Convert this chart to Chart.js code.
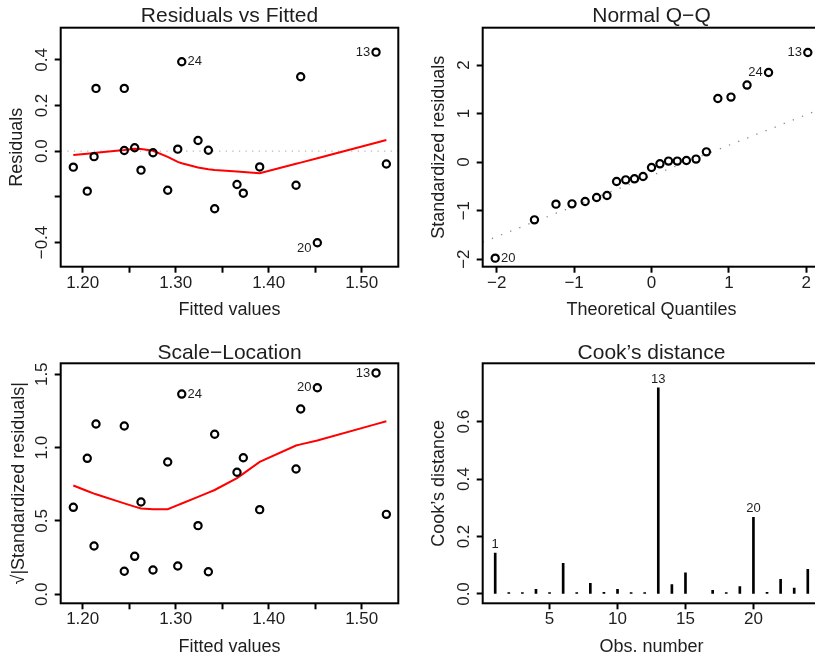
<!DOCTYPE html>
<html>
<head>
<meta charset="utf-8">
<script src="https://cdn.jsdelivr.net/npm/chart.js@4.4.1/dist/chart.umd.min.js"></script>
<style>
html,body{margin:0;padding:0;background:#fff;overflow:hidden;width:815px;height:657px;}
.p{position:absolute;}
canvas{display:block;}
</style>
</head>
<body>
<div class="p" style="left:0px;top:0px"><canvas id="c1" width="407" height="330"></canvas></div>
<div class="p" style="left:407px;top:0px"><canvas id="c2" width="420" height="330"></canvas></div>
<div class="p" style="left:0px;top:330px"><canvas id="c3" width="407" height="327"></canvas></div>
<div class="p" style="left:407px;top:330px"><canvas id="c4" width="420" height="327"></canvas></div>
<script>
// ---------------- data ----------------
const fittedValues = [1.1899,1.2049,1.2122,1.2143,1.2447,1.2447,1.2559,1.2627,1.2756,1.2914,1.3022,1.3065,1.3240,1.3351,1.3419,1.3659,1.3727,1.3903,1.4294,1.4344,1.4523,1.5154,1.5265];
const residuals    = [-0.070,-0.175,-0.024,0.275,0.275,0.003,0.015,-0.083,-0.007,-0.171,0.009,0.392,0.047,0.004,-0.252,-0.146,-0.184,-0.069,-0.149,0.326,-0.401,0.434,-0.056];
const residSmooth  = [-0.017,-0.011,-0.008,-0.007,0.005,0.005,0.011,0.010,0.002,-0.025,-0.047,-0.053,-0.071,-0.079,-0.082,-0.089,-0.091,-0.097,-0.055,-0.050,-0.031,0.037,0.049];
const sqrtStdResid = [0.593,0.927,0.329,1.161,1.147,0.157,0.259,0.629,0.166,0.902,0.193,1.365,0.468,0.154,1.091,0.832,0.931,0.577,0.854,1.263,1.408,1.509,0.545];
const sqrtSmooth   = [0.742,0.704,0.686,0.682,0.620,0.620,0.598,0.585,0.579,0.580,0.608,0.619,0.664,0.693,0.711,0.792,0.823,0.903,1.014,1.022,1.048,1.160,1.180];
const obsLabel     = ['','','','','','','','','','','','24','','','','','','','','','20','13',''];

const theoQuantiles = [-2.019,-1.512,-1.234,-1.027,-0.857,-0.709,-0.575,-0.451,-0.333,-0.220,-0.109,0,0.109,0.220,0.333,0.451,0.575,0.709,0.857,1.027,1.234,1.512,2.019];
const stdResidSorted = [-1.979,-1.190,-0.866,-0.860,-0.812,-0.730,-0.688,-0.400,-0.365,-0.344,-0.297,-0.111,-0.035,0.021,0.021,0.033,0.062,0.212,1.311,1.340,1.588,1.847,2.260];
const qqLabel = ['20','','','','','','','','','','','','','','','','','','','','','24','13'];
const qqLineX = [-2.18, 2.18];
const qqLineY = [-1.649, 1.089];

const cookObs = [1,2,3,4,5,6,7,8,9,10,11,12,13,14,15,16,17,18,19,20,21,22,23,24];
const cookD   = [0.142,0.005,0.005,0.016,0.005,0.107,0.005,0.037,0.006,0.016,0.005,0.005,0.718,0.033,0.074,null,0.013,0.005,0.026,0.267,0.006,0.051,0.021,0.086];
const cookLabel = ['1','','','','','','','','','','','','13','','','','','','','20','','','',''];

// tick values and labels
const fitTicks = [1.20,1.25,1.30,1.35,1.40,1.45,1.50];
const fitTickLabels = ['1.20','','1.30','','1.40','','1.50'];
const resTicks = [-0.4,-0.2,0.0,0.2,0.4];
const resTickLabels = ['\u22120.4','','0.0','0.2','0.4'];
const qqTicks = [-2,-1,0,1,2];
const qqTickLabels = ['\u22122','\u22121','0','1','2'];
const slTicks = [0,0.5,1.0,1.5];
const slTickLabels = ['0.0','0.5','1.0','1.5'];
const cookXTicks = [5,10,15,20];
const cookXTickLabels = ['5','10','15','20'];
const cookYTicks = [0,0.2,0.4,0.6];
const cookYTickLabels = ['0.0','0.2','0.4','0.6'];

// ---------------- drawing ----------------
const FONT = "'Liberation Sans', Arial, Helvetica, sans-serif";
const TXT = '#1e1e1e';

const rDecor = {
  id: 'rdecor',
  afterDraw(chart, args, o) {
    const ctx = chart.ctx, a = chart.chartArea;
    const xs = chart.scales.x, ys = chart.scales.y;
    ctx.save();
    ctx.strokeStyle = '#000'; ctx.lineWidth = 2;
    ctx.strokeRect(a.left, a.top, a.right - a.left, a.bottom - a.top);
    ctx.fillStyle = TXT;
    const cx = (a.left + a.right) / 2, cy = (a.top + a.bottom) / 2;
    ctx.textAlign = 'center'; ctx.textBaseline = 'alphabetic';
    ctx.font = '21px ' + FONT;
    ctx.fillText(o.title, cx, a.top - o.titleGap);
    ctx.font = '17px ' + FONT;
    o.xTicks.forEach((v, i) => { if (o.xTickLabels[i]) ctx.fillText(o.xTickLabels[i], xs.getPixelForValue(v), a.bottom + 20.8); });
    ctx.font = '18px ' + FONT;
    ctx.fillText(o.xTitle, cx, a.bottom + 48.6);
    // rotated y tick labels
    ctx.font = '17px ' + FONT;
    o.yTicks.forEach((v, i) => {
      if (!o.yTickLabels[i]) return;
      ctx.save(); ctx.translate(a.left - 14.2, ys.getPixelForValue(v)); ctx.rotate(-Math.PI / 2);
      ctx.fillText(o.yTickLabels[i], 0, 0); ctx.restore();
    });
    ctx.font = '18px ' + FONT;
    ctx.save(); ctx.translate(a.left - o.yTitleGap, cy); ctx.rotate(-Math.PI / 2);
    ctx.fillText(o.yTitle, 0, 0); ctx.restore();
    // id labels
    ctx.font = '13px ' + FONT;
    if (o.ids) {
      const mid = (xs.min + xs.max) / 2;
      o.ids.labels.forEach((lab, i) => {
        if (!lab) return;
        const xv = o.ids.x[i], yv = o.ids.y[i];
        const px = xs.getPixelForValue(xv);
        let py = ys.getPixelForValue(yv);
        if (o.ids.mode === 'above') {
          ctx.textAlign = 'center'; ctx.textBaseline = 'alphabetic';
          ctx.fillText(lab, px, py - 5);
          return;
        }
        if (o.ids.shiftNeg && yv < 0) py += 6;
        ctx.textBaseline = 'middle';
        if (xv < mid) { ctx.textAlign = 'left'; ctx.fillText(lab, px + 5.8, py); }
        else { ctx.textAlign = 'right'; ctx.fillText(lab, px - 5.8, py); }
      });
    }
    ctx.restore();
  }
};

function axis(min, max, ticks, size, isY) {
  return {
    type: 'linear', min: min, max: max, offset: false,
    afterBuildTicks: s => { s.ticks = ticks.map(v => ({ value: v })); },
    afterFit: s => { if (isY) s.width = size; else s.height = size; },
    ticks: { display: false },
    grid: { drawOnChartArea: false, drawTicks: true, tickLength: 6, tickWidth: 2, tickColor: '#000', offset: false },
    border: { display: false }
  };
}

function panel(id, canvasTop, canvasLeft, cw, ch, box, xr, yr, xt, yt, type, datasets, deco) {
  return new Chart(document.getElementById(id), {
    type: type,
    data: { datasets: datasets },
    options: {
      responsive: false, animation: false, events: [],
      layout: { autoPadding: false, padding: { left: 0, bottom: 0, top: box.t - canvasTop, right: canvasLeft + cw - box.r } },
      scales: {
        x: axis(xr[0], xr[1], xt, canvasTop + ch - box.b, false),
        y: axis(yr[0], yr[1], yt, box.l - canvasLeft, true)
      },
      plugins: { legend: { display: false }, tooltip: { enabled: false }, title: { display: false }, rdecor: deco }
    },
    plugins: [rDecor]
  });
}

const pts = (xa, ya) => xa.map((x, i) => ({ x: x, y: ya[i] }));
const circles = (data) => ({ type: 'scatter', data: data, pointStyle: 'circle', pointRadius: 3.6, pointBorderWidth: 2.2,
  pointBackgroundColor: 'rgba(0,0,0,0)', pointBorderColor: '#000', showLine: false });
const redLine = (data) => ({ type: 'line', data: data, borderColor: '#ff0000', borderWidth: 2, pointRadius: 0, tension: 0, fill: false });

const fitRange = [1.17634, 1.53935];

// Panel 1: Residuals vs Fitted
panel('c1', 0, 0, 407, 330, { l: 60.7, t: 27.7, r: 398.3, b: 266.7 }, fitRange, [-0.506, 0.541], fitTicks, resTicks, 'scatter', [
  circles(pts(fittedValues, residuals)),
  redLine(pts(fittedValues, residSmooth)),
  { type: 'line', data: pts(fitRange, [0, 0]), borderColor: '#b8b8b8', borderWidth: 1.3, borderDash: [1.3, 5.3], pointRadius: 0, fill: false }
], { title: 'Residuals vs Fitted', titleGap: 6.2, xTitle: 'Fitted values', yTitle: 'Residuals', yTitleGap: 38.7,
     xTicks: fitTicks, xTickLabels: fitTickLabels, yTicks: resTicks, yTickLabels: resTickLabels,
     ids: { labels: obsLabel, x: fittedValues, y: residuals, shiftNeg: true } });

// Panel 2: Normal Q-Q
panel('c2', 0, 407, 420, 330, { l: 482.7, t: 27.7, r: 820.3, b: 266.7 }, [-2.1805, 2.1805], [-2.155, 2.77], qqTicks, qqTicks, 'scatter', [
  circles(pts(theoQuantiles, stdResidSorted)),
  { type: 'line', data: pts(qqLineX, qqLineY), borderColor: '#8a8a8a', borderWidth: 1.3, borderDash: [1.3, 8.5], pointRadius: 0, fill: false }
], { title: 'Normal Q\u2212Q', titleGap: 6.2, xTitle: 'Theoretical Quantiles', yTitle: 'Standardized residuals', yTitleGap: 38.7,
     xTicks: qqTicks, xTickLabels: qqTickLabels, yTicks: qqTicks, yTickLabels: qqTickLabels,
     ids: { labels: qqLabel, x: theoQuantiles, y: stdResidSorted } });

// Panel 3: Scale-Location
panel('c3', 330, 0, 407, 327, { l: 60.7, t: 363.3, r: 398.3, b: 603.3 }, fitRange, [-0.0613, 1.5747], fitTicks, slTicks, 'scatter', [
  circles(pts(fittedValues, sqrtStdResid)),
  redLine(pts(fittedValues, sqrtSmooth))
], { title: 'Scale\u2212Location', titleGap: 4.8, xTitle: 'Fitted values', yTitle: '\u221A|Standardized residuals|', yTitleGap: 37,
     xTicks: fitTicks, xTickLabels: fitTickLabels, yTicks: slTicks, yTickLabels: slTickLabels,
     ids: { labels: obsLabel, x: fittedValues, y: sqrtStdResid } });

// Panel 4: Cook's distance
const cookData = cookObs.map((o, i) => ({ x: o, y: cookD[i] })).filter(d => d.y !== null);
panel('c4', 330, 407, 420, 327, { l: 482.7, t: 363.3, r: 820.3, b: 603.3 }, [0.08, 24.92], [-0.0324, 0.803], cookXTicks, cookYTicks, 'bar', [
  { type: 'bar', data: cookData, backgroundColor: '#000', borderWidth: 0, barThickness: 2, grouped: false }
], { title: 'Cook\u2019s distance', titleGap: 4.8, xTitle: 'Obs. number', yTitle: 'Cook\u2019s distance', yTitleGap: 38.7,
     xTicks: cookXTicks, xTickLabels: cookXTickLabels, yTicks: cookYTicks, yTickLabels: cookYTickLabels,
     ids: { labels: cookLabel, x: cookObs, y: cookD, mode: 'above' } });
</script>
</body>
</html>
